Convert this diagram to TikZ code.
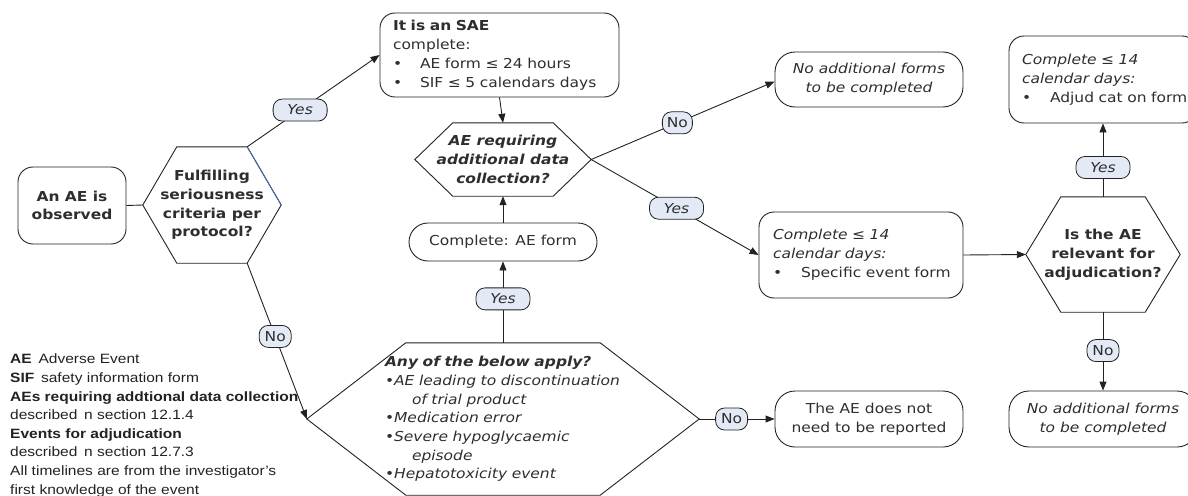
\documentclass[tikz,border=0pt]{standalone}
\usepackage{fontspec}
\setmainfont{DejaVu Sans}[FakeStretch=1.13]
\newfontfamily\legendfont{Liberation Sans}[FakeStretch=1.15]
\usetikzlibrary{arrows.meta,calc}
\definecolor{ink}{HTML}{222222}
\definecolor{txt}{HTML}{2E2E2E}
\definecolor{tagfill}{HTML}{E3EAF6}
\definecolor{edgeblue}{HTML}{4A6DB0}
% hexagon around a frameless node: name, inset of the slanted sides
\newcommand\drawhex[2]{%
  \coordinate (#1-nw) at ([xshift=#2]#1.north west);
  \coordinate (#1-ne) at ([xshift=-#2]#1.north east);
  \coordinate (#1-se) at ([xshift=-#2]#1.south east);
  \coordinate (#1-sw) at ([xshift=#2]#1.south west);
  \draw[link] (#1.west) -- (#1-nw) -- (#1-ne) -- (#1.east) -- (#1-se) -- (#1-sw) -- cycle;}
\newcommand\bul[1]{\makebox[#1][l]{\textbullet}}
\newcommand\fs{\fontsize{13.7}{19}\selectfont}
\begin{document}
\begin{tikzpicture}[x=1pt,y=-1pt,
  every node/.style={text=txt, font=\fs},
  link/.style={draw=ink, line width=0.9pt},
  arrow/.style={link, -{Triangle[length=9pt,width=7pt]}},
  box/.style={draw=ink, line width=0.9pt, rounded corners=15pt, inner sep=0pt},
  pill/.style={box, rounded corners=20pt, align=center},
  hexbox/.style={draw=none, inner sep=0pt, align=center},
  tag/.style={draw=ink, line width=0.8pt, fill=tagfill, rounded corners=9pt,
    inner sep=0pt, minimum height=22pt},
  yes/.style={tag, minimum width=54pt, font=\fs\itshape},
  no/.style={tag, minimum width=32pt}]
\useasboundingbox (0,0) rectangle (1188,495);

% start and first decision
\node[box, minimum width=108pt, minimum height=77pt, align=center,
  font=\fontsize{13.7}{18.5}\selectfont\bfseries] (obs) at (72,205.5) {An AE is\\observed};
\node[hexbox, minimum width=138pt, minimum height=116pt,
  font=\fontsize{13.7}{18.7}\selectfont\bfseries] (h1) at (212,205)
  {Fulfilling\\seriousness\\criteria per\\protocol?};
\drawhex{h1}{34pt}
\draw[edgeblue, line width=0.9pt] (h1-ne) -- (h1.east);

% serious branch
\node[box, minimum width=239pt, minimum height=84pt, text width=213pt,
  inner xsep=13pt, align=left] (sae) at (499.5,55)
  {\textbf{It is an SAE}\\complete:\\\bul{27pt}\mbox{AE form ≤ 24 hours}\\\bul{27pt}\mbox{SIF ≤ 5 calendars days}};
\node[hexbox, minimum width=176pt, minimum height=73pt,
  font=\fs\bfseries\itshape] (h2) at (503,159.5)
  {AE requiring\\additional data\\collection?};
\drawhex{h2}{38pt}
\node[box, rounded corners=19pt, minimum width=188pt, minimum height=38pt] (aeform) at (503,242)
  {Complete: AE form};

% non-serious branch
\node[hexbox, minimum width=392pt, minimum height=152pt, text width=236pt, align=left,
  font=\fontsize{13.7}{18.7}\selectfont\itshape] (h3) at (503,419)
  {\mbox{\textbf{Any of the below apply?}}\\
   \mbox{•AE leading to discontinuation}\\
   \hspace*{27pt}of trial product\\
   •Medication error\\
   \mbox{•Severe hypoglycaemic}\\
   \hspace*{27pt}episode\\
   \mbox{•Hepatotoxicity event}};
\drawhex{h3}{99pt}
\node[pill, minimum width=188pt, minimum height=56pt] (notrep) at (869,419)
  {The AE does not\\need to be reported};

% additional data collection
\node[pill, minimum width=188pt, minimum height=55pt, font=\fs\itshape]
  (noadd1) at (869,79.5) {No additional forms\\to be completed};
\node[box, minimum width=204pt, minimum height=86pt, text width=176pt,
  inner xsep=14pt, align=left] (spec) at (861,255)
  {{\itshape Complete ≤ 14\\calendar days:}\\\bul{28pt}\mbox{Specific event form}};

% adjudication
\node[hexbox, minimum width=154pt, minimum height=115pt,
  font=\fs\bfseries] (h4) at (1103,254.5)
  {Is the AE\\relevant for\\adjudication?};
\drawhex{h4}{35pt}
\node[box, minimum width=188pt, minimum height=87pt, text width=162pt,
  inner xsep=13pt, align=left] (adj) at (1103,79.5)
  {{\itshape Complete ≤ 14\\calendar days:}\\\bul{28pt}\rlap{Adjud cat on form}};
\node[pill, minimum width=188pt, minimum height=56pt, font=\fs\itshape]
  (noadd2) at (1103,419) {No additional forms\\to be completed};

% connectors
\draw[link] (obs.east) -- (h1.west);
\draw[arrow] (h1-ne) -- node[yes, pos=0.40] (y1) {Yes} (sae.west);
\draw[arrow] (h1-se) -- node[no, pos=0.47] (n1) {No} (h3.west);
\draw[arrow] (sae.south) -- (h2.north);
\draw[arrow] (aeform.north) -- (h2.south);
\draw[arrow] (h3.north) -- node[yes, pos=0.54] (y2) {Yes} (aeform.south);
\draw[arrow] (h3.east) -- node[no, pos=0.43] (n2) {No} (notrep.west);
\draw[arrow] (h2.east) -- node[no, pos=0.47, minimum width=30pt] (n3) {No} ([yshift=-2pt]noadd1.west);
\draw[arrow] (h2.east) -- node[yes, pos=0.51] (y3) {Yes} (spec.west);
\draw[arrow] (spec.east) -- (h4.west);
\draw[arrow] (h4.north) -- node[yes, pos=0.40] (y4) {Yes} (adj.south);
\draw[arrow] (h4.south) -- node[no, pos=0.49] (n4) {No} (noadd2.north);

% key to abbreviations
\node[anchor=north west, inner sep=0pt, align=left, text=ink,
  font=\legendfont\fontsize{13.5}{18.6}\selectfont] (legend) at (10,354)
  {\textbf{AE}\enspace Adverse Event\\
   \textbf{SIF}\enspace safety information form\\
   \textbf{AEs requiring addtional data collection}\\
   described\enspace n section 12.1.4\\
   \textbf{Events for adjudication}\\
   described\enspace n section 12.7.3\\
   All timelines are from the investigator’s\\
   first knowledge of the event};
\end{tikzpicture}
\end{document}
